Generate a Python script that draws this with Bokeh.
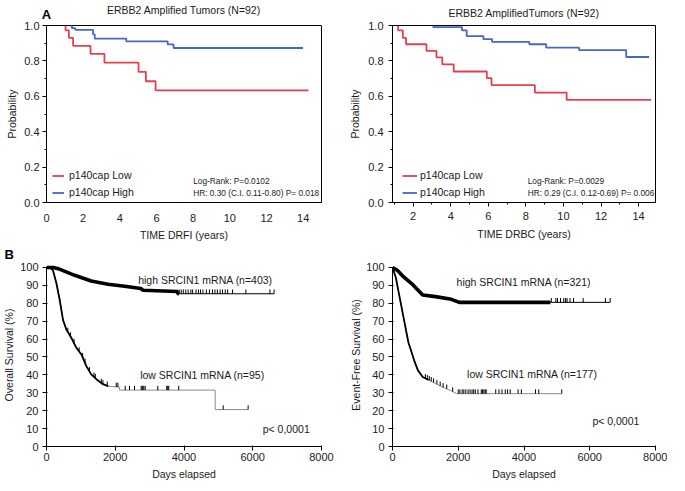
import numpy as np
from bokeh.plotting import figure
from bokeh.layouts import gridplot
from bokeh.models import (Label, Legend, LegendItem, FixedTicker, PrintfTickFormatter,
                          Range1d, LinearAxis, Title)
from bokeh.embed import file_html
from bokeh.resources import INLINE

# ---------------- data ----------------
# Panel A left: ERBB2 amplified tumors, DRFI (years vs probability)
drfi_low_years = [1.04, 1.04, 1.22, 1.45, 2.40, 3.16, 5.02, 5.42, 5.95, 14.29]
drfi_low_prob = [1.00, 0.973, 0.930, 0.885, 0.840, 0.790, 0.738, 0.685, 0.633, 0.633]
drfi_high_years = [1.31, 1.39, 1.57, 2.54, 2.63, 4.35, 6.61, 6.93, 13.99]
drfi_high_prob = [1.00, 0.985, 0.975, 0.950, 0.926, 0.910, 0.893, 0.873, 0.873]

# Panel A right: DRBC
drbc_low_years = [1.20, 1.20, 1.45, 1.62, 2.71, 3.24, 3.55, 4.16, 5.92, 6.17, 8.48, 10.17, 14.67]
drbc_low_prob = [1.00, 0.973, 0.930, 0.894, 0.857, 0.820, 0.780, 0.740, 0.703, 0.663, 0.621, 0.580, 0.580]
drbc_high_years = [3.07, 3.07, 4.60, 4.85, 5.74, 6.20, 8.18, 9.08, 10.83, 13.34, 14.56]
drbc_high_prob = [1.00, 0.991, 0.973, 0.940, 0.923, 0.908, 0.894, 0.875, 0.861, 0.822, 0.822]

a_ticks_y = [0.0, 0.2, 0.4, 0.6, 0.8, 1.0]
a_minor_y = [0.1, 0.3, 0.5, 0.7, 0.9]
a_ticks_x_left = [0, 2, 4, 6, 8, 10, 12, 14]
a_ticks_x_right = [2, 4, 6, 8, 10, 12, 14]
a_minor_x_right = [1, 3, 5, 7, 9, 11, 13]

# Panel B left: overall survival (days vs %)
os_high_days = [0, 200, 340, 820, 1300, 1790, 2270, 2750, 2800, 3815, 3815, 6620]
os_high_pct = [100, 100, 99.3, 95.6, 92.4, 90.6, 89.5, 88.2, 87.3, 86.6, 85.3, 85.3]
os_high_censor = [3860, 3920, 3980, 4050, 4120, 4200, 4250, 4350, 4420, 4480, 4550, 4650,
                  4740, 4830, 4900, 4970, 5050, 5120, 5200, 5270, 5410, 5800, 6500, 6620]
os_low_days = [0, 100, 190, 290, 385, 480, 580, 725, 870, 1015, 1160, 1300, 1450, 1640,
               1790, 2125, 2125, 4907, 4907, 5865]
os_low_pct = [100, 100, 98.3, 91, 81.8, 70.7, 65.2, 60.6, 55.1, 51.4, 44.9, 40.3, 37.6, 34.8,
              33.7, 33.1, 31.5, 31.5, 20.6, 20.6]
os_low_censor = [620, 700, 800, 950, 1050, 1120, 1250, 1380, 1420, 1594, 1643, 1768, 2029,
                 2077, 2290, 2415, 2560, 2754, 2790, 2830, 2870, 3237, 3498, 3527, 3556,
                 3846, 5140, 5865]

# Panel B right: event-free survival
efs_high_days = [0, 145, 340, 580, 823, 920, 1306, 1790, 2030, 6620]
efs_high_pct = [100, 98.4, 94.7, 91, 86.4, 84.6, 83.7, 82.2, 80.5, 80.5]
efs_high_censor = [4830, 4970, 5020, 5110, 5210, 5265, 5310, 5400, 5505, 5800, 6475, 6620]
efs_low_days = [0, 97, 194, 290, 387, 484, 581, 677, 774, 920, 1113, 1306, 1500, 1693,
                1790, 1950, 5148]
efs_low_pct = [100, 94.7, 85.5, 76.4, 67.2, 58.1, 52.6, 47.1, 42.5, 38.8, 37, 35.2, 33.3,
               31.9, 31, 29.5, 29.5]
efs_low_censor = [1000, 1060, 1120, 1180, 1250, 1350, 1450, 1540, 1650, 1830, 2000, 2050,
                  2120, 2170, 2230, 2300, 2360, 2420, 2470, 2520, 2600, 2700, 2740, 2780,
                  2820, 2850, 3140, 3240, 3330, 3430, 3500, 3580, 3820, 3920, 4350, 4450, 5148]

b_ticks_y = list(range(0, 101, 10))
b_ticks_x = [0, 2000, 4000, 6000, 8000]

# ---------------- styling ----------------
RED = "#e2404c"
BLUE = "#4567c3"
FONT = "Liberation Sans"
TXT = "#1a1a1a"


def make_fig(fig_box, frame, xr, yr):
    fx, fy, w, h = fig_box
    fl, fr, ft, fb = frame
    p = figure(width=w, height=h, x_range=Range1d(*xr), y_range=Range1d(*yr),
               output_backend="svg", toolbar_location=None, title=None,
               min_border_left=fl - fx, min_border_right=fx + w - fr,
               min_border_top=ft - fy, min_border_bottom=fy + h - fb)
    p.xgrid.visible = False
    p.ygrid.visible = False
    p.background_fill_color = "white"
    p.border_fill_color = "white"
    for ax in (p.xaxis[0], p.yaxis[0]):
        ax.axis_line_color = "black"
        ax.major_tick_line_color = "black"
        ax.minor_tick_line_color = "black"
        ax.major_label_text_font = FONT
        ax.major_label_text_font_size = "11px"
        ax.major_label_text_color = "#222222"
        ax.axis_label_text_font = FONT
        ax.axis_label_text_font_size = "10.5px"
        ax.axis_label_text_font_style = "normal"
        ax.axis_label_text_color = TXT
    return p


def add_header(p, bounds, title, letter_tick=None, letter="", letter_standoff=0,
               title_standoff=7):
    """Panel title (and optional panel letter) drawn by a bare axis above the frame."""
    ax = LinearAxis(ticker=FixedTicker(ticks=[] if letter_tick is None else [letter_tick]),
                    formatter=PrintfTickFormatter(format=letter if letter else "%s"),
                    bounds=bounds, axis_line_color=None,
                    major_tick_line_color=None, minor_tick_line_color=None,
                    major_tick_in=0, major_tick_out=0, minor_tick_in=0, minor_tick_out=0,
                    major_label_standoff=letter_standoff,
                    major_label_text_font=FONT, major_label_text_font_size="13px",
                    major_label_text_font_style="bold", major_label_text_color="black",
                    axis_label=title, axis_label_standoff=title_standoff,
                    axis_label_text_font=FONT, axis_label_text_font_size="10.5px",
                    axis_label_text_font_style="normal", axis_label_text_color=TXT)
    p.add_layout(ax, "above")


def add_text(p, x, y, text, size="10.5px", align="left", baseline="middle"):
    p.add_layout(Label(x=x, y=y, text=text, text_font=FONT, text_font_size=size,
                       text_align=align, text_baseline=baseline, text_color=TXT))


def style_a(p, xticks, xminor, tick_out_x, x_standoff, xlab_standoff, y_standoff, ylab_standoff):
    p.outline_line_color = "black"
    p.outline_line_width = 1
    p.yaxis.ticker = FixedTicker(ticks=a_ticks_y, minor_ticks=a_minor_y)
    p.yaxis.formatter = PrintfTickFormatter(format="%.1f")
    p.yaxis.major_tick_in = 0
    p.yaxis.major_tick_out = 4
    p.yaxis.minor_tick_in = 0
    p.yaxis.minor_tick_out = 2
    p.yaxis.major_label_standoff = y_standoff
    p.yaxis.axis_label = "Probability"
    p.yaxis.axis_label_standoff = ylab_standoff
    p.xaxis.ticker = FixedTicker(ticks=xticks, minor_ticks=xminor)
    p.xaxis.major_tick_in = 0
    p.xaxis.major_tick_out = tick_out_x
    p.xaxis.minor_tick_in = 0
    p.xaxis.minor_tick_out = 2 if tick_out_x else 0
    p.xaxis.major_label_standoff = x_standoff
    p.xaxis.axis_label_standoff = xlab_standoff


def style_b(p, ylabel, ylab_standoff):
    p.outline_line_color = None
    p.yaxis.ticker = FixedTicker(ticks=b_ticks_y)
    p.xaxis.ticker = FixedTicker(ticks=b_ticks_x)
    p.yaxis.bounds = (0, 100)
    p.xaxis.bounds = (0, 8000)
    for ax in (p.xaxis[0], p.yaxis[0]):
        ax.major_tick_in = 1
        ax.major_tick_out = 4
        ax.minor_tick_out = 0
        ax.minor_tick_in = 0
    p.yaxis.major_label_standoff = 4
    p.xaxis.major_label_standoff = 2
    p.yaxis.axis_label = ylabel
    p.yaxis.axis_label_standoff = ylab_standoff
    p.xaxis.axis_label = "Days elapsed"
    p.xaxis.axis_label_standoff = 4


def km_panel_a(p, low_x, low_y, high_x, high_y, legend_dx, glyph_w, standoff,
               stats_x, stats):
    lr = p.step(low_x, low_y, mode="after", line_color=RED, line_width=1.8)
    hr = p.step(high_x, high_y, mode="after", line_color=BLUE, line_width=1.8)
    leg = Legend(items=[LegendItem(label="p140cap Low", renderers=[lr]),
                        LegendItem(label="p140cap High", renderers=[hr])],
                 location=(legend_dx, 2.5), padding=0, margin=0, spacing=2,
                 glyph_width=glyph_w, glyph_height=15, label_height=15,
                 label_standoff=standoff, label_text_font=FONT,
                 label_text_font_size="10.5px", label_text_color=TXT,
                 border_line_alpha=0, background_fill_alpha=0)
    p.add_layout(leg)
    add_text(p, stats_x, 0.121, stats[0], size="8.3px")
    add_text(p, stats_x, 0.055, stats[1], size="8.3px")


def km_panel_b(p, high_d, high_v, high_c, dense_high, low_d, low_v, low_c, steep_low):
    tick = 2.4
    ld = np.array(low_d, dtype=float)
    lv = np.array(low_v, dtype=float)
    hd = np.array(high_d, dtype=float)
    hv = np.array(high_v, dtype=float)
    # low group: thin grey curve, bold steep part
    p.line(ld, lv, line_color="#8a8a8a", line_width=1)
    m = ld < steep_low
    p.line(np.append(ld[m], steep_low), np.append(lv[m], np.interp(steep_low, ld, lv)),
           line_color="black", line_width=1.8)
    lc = np.array(low_c, dtype=float)
    lcv = np.interp(lc, ld, lv)
    p.segment(x0=lc, y0=lcv, x1=lc, y1=lcv + tick, line_color="black", line_width=1)
    # high group: heavily censored part drawn as a thick band
    p.line(hd, hv, line_color="black", line_width=1)
    mh = hd < dense_high
    p.line(np.append(hd[mh], dense_high), np.append(hv[mh], np.interp(dense_high, hd, hv)),
           line_color="black", line_width=3.6)
    hc = np.array(high_c, dtype=float)
    hcv = np.interp(hc, hd, hv)
    p.segment(x0=hc, y0=hcv, x1=hc, y1=hcv + tick, line_color="black", line_width=1)


# ---------------- panel A left ----------------
tl = make_fig((0, 0, 334, 244), (42, 324, 19, 202), (0, 15), (0, 1))
style_a(tl, a_ticks_x_left, [], 0, 11, 4, 3, 3)
tl.xaxis.axis_label = "TIME DRFI (years)"
km_panel_a(tl, drfi_low_years, drfi_low_prob, drfi_high_years, drfi_high_prob,
           6, 12, 5, 8.0, ("Log-Rank: P=0.0102", "HR: 0.30 (C.I. 0.11-0.80) P= 0.018"))
add_header(tl, (0, 15), "ERBB2 Amplified Tumors (N=92)", letter_tick=0, letter="A",
           letter_standoff=4, title_standoff=-12)

# ---------------- panel A right ----------------
tr = make_fig((334, 0, 333, 244), (392, 663, 19, 202), (0.9, 14.9), (0, 1))
style_a(tr, a_ticks_x_right, a_minor_x_right, 4, 5, 5, 5, 4)
tr.xaxis.axis_label = "TIME DRBC (years)"
km_panel_a(tr, drbc_low_years, drbc_low_prob, drbc_high_years, drbc_high_prob,
           10, 15, 3, 8.1, ("Log-Rank: P=0.0029", "HR: 0.29 (C.I. 0.12-0.69) P= 0.006"))
add_header(tr, (0.9, 14.84), "ERBB2 AmplifiedTumors (N=92)")

# ---------------- panel B left ----------------
bl = make_fig((0, 244, 334, 239), (45, 321, 263, 446), (0, 8000), (0, 102.2))
style_b(bl, "Overall Survival (%)", 2)
km_panel_b(bl, os_high_days, os_high_pct, os_high_censor, 3850,
           os_low_days, os_low_pct, os_low_censor, 1800)
add_text(bl, 2667, 92.8, "high SRCIN1 mRNA (n=403)")
add_text(bl, 2725, 39.8, "low SRCIN1 mRNA (n=95)")
add_text(bl, 6290, 9.9, "p< 0,0001")
bl.title = Title(text="B", align="left", offset=-42, standoff=0, vertical_align="top",
                 text_font=FONT, text_font_size="13px", text_font_style="bold",
                 text_color="black")

# ---------------- panel B right ----------------
br = make_fig((334, 244, 333, 239), (387, 655, 263, 446), (0, 8000), (0, 102.2))
style_b(br, "Event-Free Survival (%)", 1)
km_panel_b(br, efs_high_days, efs_high_pct, efs_high_censor, 4800,
           efs_low_days, efs_low_pct, efs_low_censor, 1100)
add_text(br, 1949, 91.8, "high SRCIN1 mRNA (n=321)")
add_text(br, 2269, 40.7, "low SRCIN1 mRNA (n=177)")
add_text(br, 6080, 14.3, "p< 0,0001")

grid = gridplot([[tl, tr], [bl, br]], toolbar_location=None)

with open("out.html", "w") as f:
    f.write(file_html(grid, INLINE))
